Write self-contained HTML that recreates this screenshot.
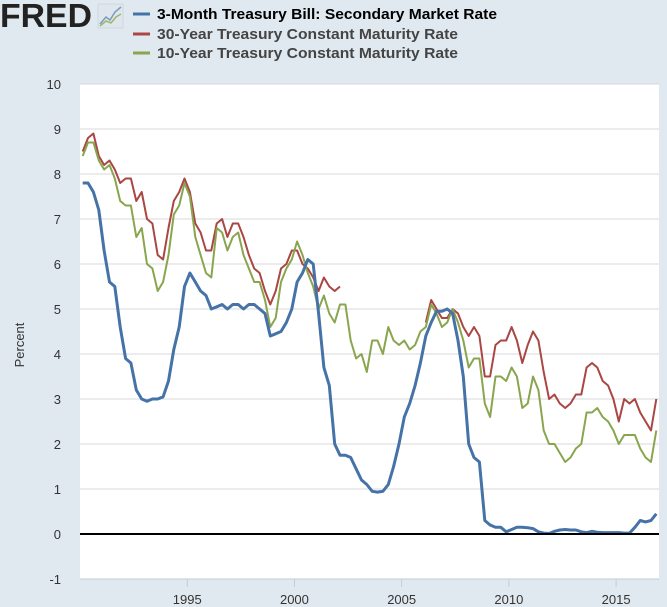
<!DOCTYPE html>
<html><head><meta charset="utf-8"><style>
html,body{margin:0;padding:0;background:#e1e9f0;width:667px;height:607px;overflow:hidden;font-family:"Liberation Sans",sans-serif;}
</style></head><body>
<svg id="chart" width="667" height="607" xmlns="http://www.w3.org/2000/svg">
<rect width="667" height="607" fill="#e1e9f0"/>
<g>
<text x="0" y="27" font-family="Liberation Sans, sans-serif" font-weight="bold" font-size="33" fill="#222" textLength="92" lengthAdjust="spacingAndGlyphs">FRED</text>
<rect x="98" y="4" width="25" height="24" fill="#dfe6ec" stroke="#cfd8e0"/>
<polyline points="100,24 106,17 110,20 115,12 121,7" fill="none" stroke="#7a9cc0" stroke-width="1.5"/>
<polyline points="100,26 106,21 111,23 116,17 121,14" fill="none" stroke="#9bb86a" stroke-width="1.5"/>
</g>
<g font-size="15" font-family="Liberation Sans, sans-serif">
<g><line x1="133" y1="14" x2="150" y2="14" stroke="#4572a7" stroke-width="3"/><text x="157" y="19" font-weight="bold" fill="#000" textLength="340" lengthAdjust="spacingAndGlyphs">3-Month Treasury Bill: Secondary Market Rate</text></g>
<g><line x1="133" y1="34" x2="150" y2="34" stroke="#aa4643" stroke-width="3"/><text x="157" y="39" font-weight="bold" fill="#444" textLength="301" lengthAdjust="spacingAndGlyphs">30-Year Treasury Constant Maturity Rate</text></g>
<g><line x1="133" y1="53" x2="150" y2="53" stroke="#89a54e" stroke-width="3"/><text x="157" y="58" font-weight="bold" fill="#444" textLength="301" lengthAdjust="spacingAndGlyphs">10-Year Treasury Constant Maturity Rate</text></g>
</g>
<rect x="80" y="84" width="579" height="495" fill="#fff"/>
<g id="grid"></g><g id="yticks"></g><g id="xticks"></g><g id="series"></g>
<text x="0" y="0" transform="translate(24,345) rotate(-90)" text-anchor="middle" font-size="13" fill="#333">Percent</text>
</svg>
<script>
const yTicks=[10,9,8,7,6,5,4,3,2,1,0,-1];
const xTickYears=[1995,2000,2005,2010,2015];
const startYear=1990;
const bill3m=[7.8,7.8,7.6,7.2, 6.3,5.6,5.5,4.6, 3.9,3.8,3.2,3.0, 2.95,3.0,3.0,3.05, 3.4,4.1,4.6,5.5, 5.8,5.6,5.4,5.3, 5.0,5.05,5.1,5.0, 5.1,5.1,5.0,5.1, 5.1,5.0,4.9,4.4, 4.45,4.5,4.7,5.0, 5.6,5.8,6.1,6.0, 4.9,3.7,3.3,2.0, 1.75,1.75,1.7,1.45, 1.2,1.1,0.95,0.93, 0.95,1.1,1.5,2.0, 2.6,2.9,3.3,3.8, 4.4,4.7,4.95,4.95, 5.0,4.9,4.3,3.5, 2.0,1.7,1.6,0.3, 0.2,0.15,0.15,0.05, 0.1,0.15,0.15,0.14, 0.12,0.05,0.02,0.01, 0.06,0.09,0.1,0.09, 0.09,0.05,0.03,0.06, 0.04,0.03,0.03,0.03, 0.03,0.02,0.02,0.15, 0.3,0.27,0.3,0.45];
const yr10=[8.4,8.7,8.7,8.3, 8.1,8.2,7.9,7.4, 7.3,7.3,6.6,6.8, 6.0,5.9,5.4,5.6, 6.2,7.1,7.3,7.8, 7.5,6.6,6.2,5.8, 5.7,6.8,6.7,6.3, 6.6,6.7,6.2,5.9, 5.6,5.6,5.2,4.6, 4.8,5.6,5.9,6.1, 6.5,6.2,5.8,5.5, 5.0,5.3,4.9,4.7, 5.1,5.1,4.3,3.9, 4.0,3.6,4.3,4.3, 4.0,4.6,4.3,4.2, 4.3,4.1,4.2,4.5, 4.6,5.1,4.9,4.6, 4.7,5.0,4.7,4.3, 3.7,3.9,3.9,2.9, 2.6,3.5,3.5,3.4, 3.7,3.5,2.8,2.9, 3.5,3.2,2.3,2.0, 2.0,1.8,1.6,1.7, 1.9,2.0,2.7,2.7, 2.8,2.6,2.5,2.3, 2.0,2.2,2.2,2.2, 1.9,1.7,1.6,2.3];
const yr30=[8.5,8.8,8.9,8.4, 8.2,8.3,8.1,7.8, 7.9,7.9,7.4,7.6, 7.0,6.9,6.2,6.1, 6.8,7.4,7.6,7.9, 7.6,6.9,6.7,6.3, 6.3,6.9,7.0,6.6, 6.9,6.9,6.6,6.2, 5.9,5.8,5.4,5.1, 5.4,5.9,6.0,6.3, 6.3,6.0,5.9,5.7, 5.4,5.7,5.5,5.4, 5.5,null,null,null, null,null,null,null, null,null,null,null, null,null,null,null, 4.7,5.2,5.0,4.8, 4.8,5.0,4.9,4.6, 4.4,4.6,4.4,3.5, 3.5,4.2,4.3,4.3, 4.6,4.3,3.8,4.2, 4.5,4.3,3.6,3.0, 3.1,2.9,2.8,2.9, 3.1,3.1,3.7,3.8, 3.7,3.4,3.3,3.0, 2.5,3.0,2.9,3.0, 2.7,2.5,2.3,3.0];
const NS="http://www.w3.org/2000/svg";
const X0=80,X1=659,Y0=84,Y1=579;
function xScale(t){return X0+(t-1990)*(X1-X0)/(2017-1990);}
function yScale(v){return Y1-(v+1)*(Y1-Y0)/11;}
function mk(tag,attrs,parent){const e=document.createElementNS(NS,tag);for(const k in attrs)e.setAttribute(k,attrs[k]);parent.appendChild(e);return e;}
const grid=document.getElementById('grid'),yt=document.getElementById('yticks'),xt=document.getElementById('xticks'),ser=document.getElementById('series');
yTicks.forEach(v=>{
  const l=mk('line',{x1:X0,x2:X1,y1:yScale(v),y2:yScale(v),stroke:v===-1?'#c0ccd8':'#d8d8d8','stroke-width':1},grid);
  
  
  const t=mk('text',{x:61,y:yScale(v)+5,'text-anchor':'end','font-size':13,fill:'#333'},yt);
  t.textContent=v;
  
  
});
xTickYears.forEach(y=>{
  const x=xScale(y);
  const l=mk('line',{x1:x,x2:x,y1:Y1,y2:Y1+8,stroke:'#c0ccd8'},xt);
  
  
  const t=mk('text',{x:x,y:Y1+25,'text-anchor':'middle','font-size':13,fill:'#333'},xt);
  t.textContent=y;
  
  
});
function draw(arr,color,w,name){
  let d='',pen=false;
  arr.forEach((v,i)=>{
    if(v===null){pen=false;return;}
    const x=xScale(startYear+i/4+0.125),y=yScale(v);
    d+=(pen?'L':'M')+x.toFixed(1)+','+y.toFixed(1);pen=true;
  });
  const p=mk('path',{d:d,fill:'none',stroke:color,'stroke-width':w,'stroke-linejoin':'round'},ser);
  
  
}
draw(yr30,'#aa4643',2,'series-30-year-line');
draw(yr10,'#89a54e',2,'series-10-year-line');
draw(bill3m,'#4572a7',3,'series-3-month-line');
const z=mk('line',{x1:X0,x2:X1,y1:yScale(0),y2:yScale(0),stroke:'#000','stroke-width':2},ser);


</script>
</body></html>
